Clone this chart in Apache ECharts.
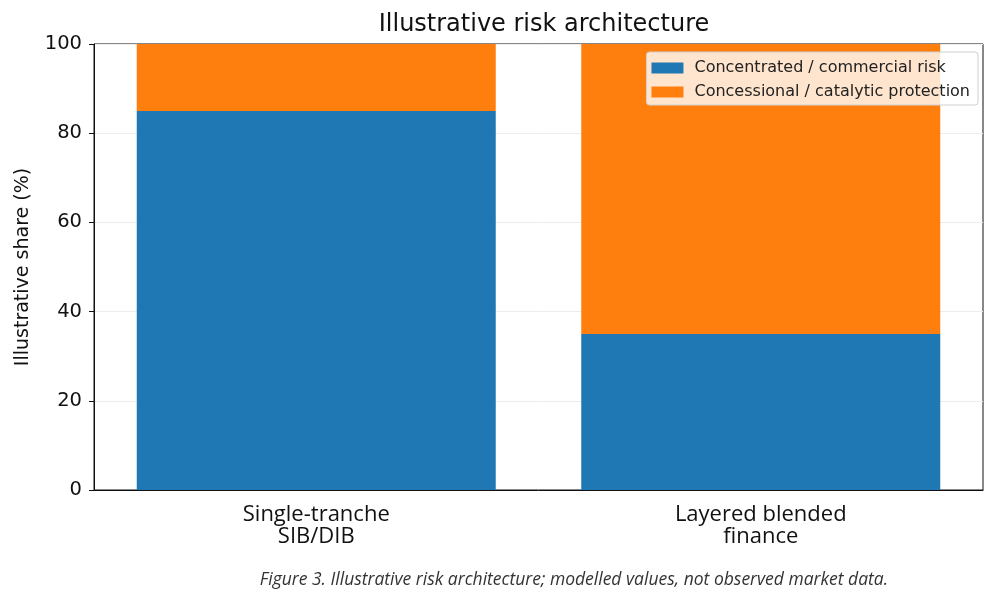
<!DOCTYPE html>
<html>
<head>
<meta charset="utf-8">
<script src="https://cdn.jsdelivr.net/npm/echarts@6/dist/echarts.min.js"></script>
<style>
  html, body { margin: 0; padding: 0; background: #fff; }
  #chart { width: 1000px; height: 603px; }
</style>
</head>
<body>
<div id="chart"></div>
<script>
const categories = ['Single-tranche\nSIB/DIB', 'Layered blended\nfinance'];
const concentrated = [85, 35];
const concessional = [15, 65];
const yTicks = [0, 20, 40, 60, 80, 100];

const DV = "'DejaVu Sans', sans-serif";

const myChart = echarts.init(document.getElementById('chart'));

const option = {
    animation: false,
    backgroundColor: '#fff',
    title: {
        text: 'Illustrative risk architecture',
        left: 539,
        top: 8,
        textAlign: 'center',
        textStyle: { fontFamily: DV, fontSize: 24, fontWeight: 'normal', color: '#111' }
    },
    legend: {
        right: 22,
        top: 52,
        orient: 'vertical',
        itemWidth: 32,
        itemHeight: 11,
        itemGap: 8,
        padding: [8, 8, 5, 5],
        backgroundColor: 'rgba(255,255,255,0.8)',
        borderColor: '#d0d0d0',
        borderWidth: 1,
        borderRadius: 3,
        icon: 'rect',
        textStyle: { fontFamily: DV, fontSize: 16, color: '#222', padding: [0, 0, 0, 6] },
        data: ['Concentrated / commercial risk', 'Concessional / catalytic protection']
    },
    grid: {
        left: 94,
        right: 17,
        top: 44,
        bottom: 113,
        show: true,
        borderColor: '#111',
        borderWidth: 1
    },
    xAxis: {
        type: 'category',
        data: categories,
        axisLine: { lineStyle: { color: '#111' } },
        axisTick: { alignWithLabel: true, length: 5, lineStyle: { color: '#111' } },
        axisLabel: { fontFamily: "'Open Sans', sans-serif", fontSize: 22, color: '#111', lineHeight: 22, margin: 14 }
    },
    yAxis: {
        type: 'value',
        min: 0,
        max: 100,
        interval: 20,
        name: 'Illustrative share (%)',
        nameLocation: 'middle',
        nameGap: 61,
        nameTextStyle: { fontFamily: DV, fontSize: 19, color: '#111' },
        axisLine: { show: true, lineStyle: { color: '#111' } },
        axisTick: { show: true, length: 5, lineStyle: { color: '#111' } },
        axisLabel: {
            fontFamily: DV, fontSize: 19.5, color: '#111', margin: 12,
            formatter: v => yTicks.includes(v) ? String(v) : ''
        },
        splitLine: { show: true, lineStyle: { color: '#ececec', width: 1 } }
    },
    series: [
        {
            name: 'Concentrated / commercial risk',
            type: 'bar',
            stack: 'total',
            barWidth: 359,
            itemStyle: { color: '#1f77b4' },
            data: concentrated,
            z: 1
        },
        {
            name: 'Concessional / catalytic protection',
            type: 'bar',
            stack: 'total',
            barWidth: 359,
            itemStyle: { color: '#ff7f0e' },
            data: concessional,
            z: 1
        }
    ],
    graphic: [
        {
            type: 'text',
            x: 574,
            y: 580,
            style: {
                text: 'Figure 3. Illustrative risk architecture; modelled values, not observed market data.',
                fontFamily: "'Open Sans', sans-serif",
                fontStyle: 'italic',
                fontSize: 17.5,
                fill: '#333',
                textAlign: 'center',
                textVerticalAlign: 'middle'
            }
        }
    ]
};

myChart.setOption(option);
</script>
</body>
</html>
